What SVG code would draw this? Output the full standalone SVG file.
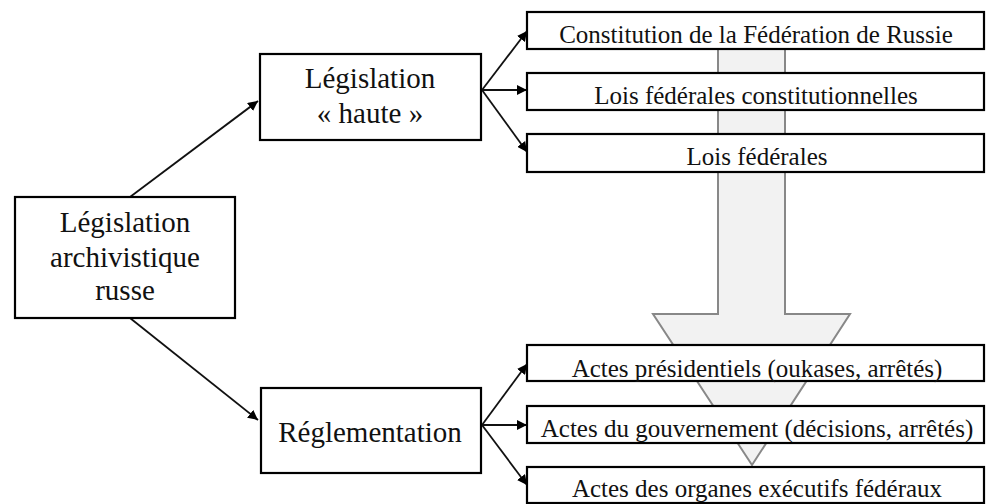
<svg xmlns="http://www.w3.org/2000/svg" width="987" height="504" viewBox="0 0 987 504">
<style>
.box{fill:#fff;stroke:#000;stroke-width:2.2}
.t{font-family:"Liberation Serif","Times New Roman",serif;fill:#111;text-anchor:middle}
.big{font-size:29px}
.sm{font-size:25px}
.con{stroke:#111;stroke-width:1.8;fill:none;marker-end:url(#ah)}
</style>
<defs>
<marker id="ah" viewBox="0 0 10 10" refX="10" refY="5" markerWidth="10" markerHeight="10" markerUnits="userSpaceOnUse" orient="auto">
<path d="M0,0 L10,5 L0,10 z" fill="#000"/>
</marker>
</defs>
<rect width="987" height="504" fill="#fff"/>
<g id="bigArrow">
<path d="M718,49 L785,49 L785,314 L850,314 L752,465 L653,314 L718,314 Z" fill="#f2f2f2" stroke="#888" stroke-width="2"/>
</g>
<g id="connectors">
<line class="con" x1="130" y1="197" x2="258" y2="101"/>
<line class="con" x1="130" y1="318" x2="258" y2="420"/>
<line class="con" x1="482" y1="90" x2="527" y2="31"/>
<line class="con" x1="482" y1="90" x2="527" y2="90"/>
<line class="con" x1="482" y1="90" x2="527" y2="152"/>
<line class="con" x1="482" y1="425" x2="527" y2="364"/>
<line class="con" x1="482" y1="425" x2="527" y2="425"/>
<line class="con" x1="482" y1="425" x2="527" y2="485"/>
</g>
<g id="root">
<rect class="box" x="15" y="197" width="220" height="121"/>
<text class="t big" x="125" y="232">Législation</text>
<text class="t big" x="125" y="267">archivistique</text>
<text class="t big" x="125" y="300">russe</text>
</g>
<g id="haute">
<rect class="box" x="260" y="54" width="221" height="86"/>
<text class="t big" x="370" y="88">Législation</text>
<text class="t big" x="370" y="123">« haute »</text>
</g>
<g id="reglementation">
<rect class="box" x="261" y="388" width="220" height="85"/>
<text class="t big" x="370" y="442">Réglementation</text>
</g>
<g id="constitution">
<rect class="box" x="527" y="12" width="457" height="37"/>
<text class="t sm" x="756" y="43">Constitution de la Fédération de Russie</text>
</g>
<g id="lfc">
<rect class="box" x="527" y="73" width="457" height="37"/>
<text class="t sm" x="756" y="104">Lois fédérales constitutionnelles</text>
</g>
<g id="lf">
<rect class="box" x="527" y="134" width="457" height="38"/>
<text class="t sm" x="757" y="165">Lois fédérales</text>
</g>
<g id="presidentiels">
<rect class="box" x="527" y="345" width="457" height="36"/>
<text class="t sm" x="757" y="377">Actes présidentiels (oukases, arrêtés)</text>
</g>
<g id="gouvernement">
<rect class="box" x="527" y="406" width="457" height="37"/>
<text class="t sm" x="757" y="437">Actes du gouvernement (décisions, arrêtés)</text>
</g>
<g id="organes">
<rect class="box" x="527" y="467" width="457" height="36"/>
<text class="t sm" x="757" y="497">Actes des organes exécutifs fédéraux</text>
</g>
</svg>
